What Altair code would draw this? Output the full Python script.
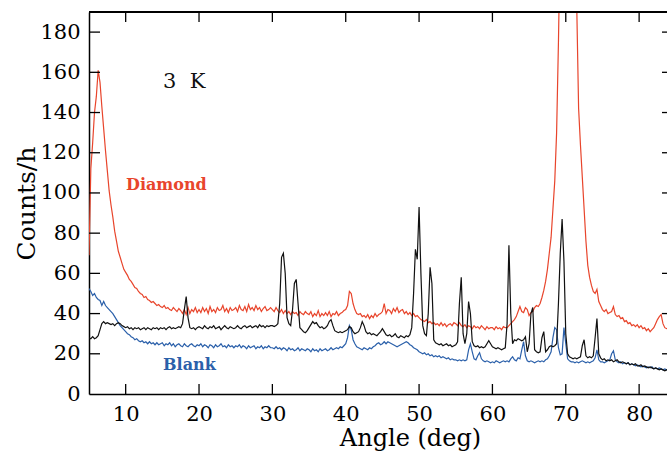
import altair as alt
import pandas as pd

# ---- data (counts/h sampled every 0.25 deg from 5 to 84 deg) ----
red = (
    [69, 112, 125, 140, 148, 161, 155, 143, 132, 121, 111, 101, 94, 88, 81, 76, 71, 68, 65, 62]
    + [60.5, 59, 57, 56, 54.5, 53, 52.5, 51, 50, 49.5, 48, 48.5, 47, 46.5, 45.5, 46, 45, 44, 44.5, 43.5]
    + [43, 44, 42.5, 43, 42, 41.5, 43, 42, 41, 42.5, 41.5, 40, 42, 39.5, 43, 40, 42, 41, 43, 40.5]
    + [42, 40.5, 43, 41, 42.5, 40, 43.5, 41, 42, 40.5, 43, 41.5, 42, 44, 41, 42.5, 40.5, 43, 41.5, 42]
    + [43, 41, 44, 42, 41.5, 43.5, 41, 44.5, 42, 43, 41.5, 44, 42, 43, 41, 42.5, 43.5, 41.5, 42, 43]
    + [42, 41, 43, 41.5, 40.5, 42, 40, 41.5, 40, 41, 39.5, 41, 40, 40.5, 39, 41, 40, 39.5, 41, 40]
    + [39.5, 41, 38.5, 40, 39, 41.5, 38.5, 40, 39, 40.5, 39, 41, 38.5, 40, 39.5, 41, 39, 40, 40.5, 41.5]
    + [42, 44, 51, 50, 45, 42, 40, 39.5, 40, 38.5, 39, 38, 39.5, 37.5, 39, 38, 40, 38.5, 39.5, 40]
    + [41, 45, 40, 42, 41.5, 40, 42.5, 41, 43, 40.5, 41.5, 42, 40, 41, 39.5, 40.5, 39, 40, 38.5, 39]
    + [38, 37, 36.5, 36, 37, 35.5, 36, 35, 35.5, 34.5, 35, 34, 35.5, 34, 35, 33.5, 34.5, 35, 34, 35.5]
    + [35, 34, 35.5, 34, 33.5, 34.5, 33, 34, 33.5, 32.5, 34, 33, 33.5, 32.5, 34, 33, 32, 33.5, 32.5, 33]
    + [33, 32, 33.5, 32.5, 33, 32, 33.5, 33, 33, 34, 35, 36, 37, 38.5, 41, 43.5, 41, 40.5, 43, 42]
    + [39, 40.5, 41, 43, 44, 43.5, 45, 48, 51.5, 56, 62, 70, 78, 92, 106, 130, 175, 230, 300, 340]
    + [350, 350, 340, 310, 270, 240, 192, 142, 124, 108, 92, 76, 64, 58, 54, 51, 50, 52, 46, 44]
    + [42, 41, 42, 40, 40.5, 41, 43.5, 39.5, 38.5, 39, 37.5, 38, 36, 36.5, 35, 35.5, 34, 34.5, 33.5, 34.5]
    + [33, 34, 32.5, 33, 31.5, 32.5, 31, 32, 33, 35, 37, 38.5, 39.5, 35, 33, 32.5, 33]
)

black = (
    [28, 27.5, 28.5, 27.5, 28, 29, 32, 35, 36, 35, 35.5, 35, 34.5, 35, 34, 35, 35.5, 35, 34, 33.5]
    + [33, 33.5, 32.5, 33, 32, 33, 32.5, 33, 32, 32.5, 33, 32, 33, 32.5, 32, 33, 32.5, 33, 32, 33]
    + [32.5, 33, 32, 33, 33.5, 32.5, 33, 32.5, 33, 33.5, 33, 35, 42, 48.5, 38, 33, 32.5, 33, 32, 33]
    + [33.5, 33, 32.5, 34, 33, 32.5, 33.5, 33, 34, 32.5, 33, 33.5, 32, 33, 34, 33, 32.5, 33.5, 33, 32.5]
    + [33, 34, 33, 32.5, 33.5, 34, 33, 33.5, 34, 33, 33.5, 34, 33, 34.5, 33.5, 34, 33, 34, 33.5, 34]
    + [34, 33.5, 34, 35, 45, 68, 70, 60, 38, 35, 34, 42, 55, 57, 45, 33, 32, 31, 30.5, 31.5]
    + [33, 34.5, 36, 35, 35.5, 34, 33, 33.5, 32.5, 33, 34, 36, 37, 34, 31.5, 31, 30.5, 31, 30.5, 31]
    + [31.5, 32, 33.5, 33, 31, 30, 30.5, 31, 33, 36, 34, 31, 30, 30.5, 29.5, 30, 29.5, 29, 30, 31]
    + [32.5, 31, 29.5, 29, 29.5, 28.5, 29, 30, 28.5, 28, 29, 28.5, 28, 29, 28.5, 29.5, 33, 50, 72, 67]
    + [93, 60, 34, 30, 29, 40, 63, 55, 27, 25.5, 25, 24.5, 25, 24, 24.5, 25, 24, 24.5, 23.5, 24]
    + [24.5, 26, 45, 58, 30, 25, 30, 46, 40, 26, 24, 23.5, 24, 23, 23.5, 23, 23.5, 25, 26.5, 25]
    + [23.5, 23, 22.5, 23, 22.5, 22, 22.5, 23, 35, 74, 40, 25, 27, 26.5, 27.5, 27, 26.5, 27, 28.5, 21]
    + [25, 40, 43, 22, 21, 20.5, 21, 28, 31, 21, 22, 23.5, 24, 23.5, 24, 25, 45, 70, 87, 66]
    + [30, 20, 18.5, 18, 17.5, 18, 17.5, 18, 18.5, 24, 27, 19, 18, 18.5, 18, 19, 28, 37.5, 20, 18]
    + [17, 17.5, 16.5, 17, 16.5, 17, 16, 16.5, 17, 16, 15.5, 16, 15.5, 15, 15.5, 14.5, 15, 14.5, 15, 14]
    + [14, 14.5, 13.5, 14, 13.5, 13, 13.5, 13, 12.5, 13, 12.5, 12, 12.5, 12, 11.5, 12, 12.5]
)

blue = (
    [52.5, 51, 49, 50, 48, 47, 46.5, 44, 46, 44, 43, 42, 41, 40, 38.5, 37, 35.5, 34, 33, 32]
    + [31, 30, 29.5, 28.5, 28, 27, 27.5, 26.5, 26, 26.5, 25.5, 26, 25, 26, 25, 25.5, 24.5, 25.5, 24.5, 25]
    + [25.5, 24, 25, 24.5, 25.5, 24, 25, 23.5, 24.5, 25, 24, 23.5, 25, 24, 23.5, 24.5, 25, 24, 23.5, 24.5]
    + [24, 25, 23.5, 24.5, 24, 23, 24.5, 24, 23, 24.5, 23.5, 24, 25, 23.5, 24, 23, 24.5, 23.5, 24, 23]
    + [24, 23.5, 24.5, 23, 24, 23.5, 22.5, 24, 23, 23.5, 24, 22.5, 23.5, 23, 24, 22.5, 23.5, 23, 24, 23]
    + [23, 22.5, 23.5, 22.5, 23, 22, 23, 22.5, 21.5, 23, 22, 22.5, 21.5, 22, 23, 21.5, 22.5, 22, 21.5, 22.5]
    + [22, 21, 22.5, 21.5, 22, 21, 22.5, 21.5, 22, 22.5, 21.5, 22, 23, 22, 22.5, 23, 22.5, 23.5, 23, 24]
    + [25, 28, 34, 32, 27, 25, 23.5, 23, 22.5, 22, 23, 22.5, 22, 23, 22.5, 23.5, 24, 25, 25.5, 24.5]
    + [25, 26, 25, 26, 25.5, 25, 24.5, 24, 23.5, 24, 24.5, 25, 25.5, 26, 25.5, 24.5, 24, 23, 22.5, 22]
    + [21, 20.5, 20, 20.5, 19.5, 20, 19, 19.5, 18.5, 19, 18.5, 19, 18, 18.5, 18, 17.5, 18, 17, 17.5, 17]
    + [17, 16.5, 17, 16.5, 17, 16.5, 17, 22, 25, 21, 17.5, 17, 19, 20.5, 17.5, 16.5, 16, 16.5, 16, 15.5]
    + [16, 15.5, 16.5, 16, 15.5, 16, 16.5, 16, 16.5, 16, 17.5, 18.5, 17, 16.5, 18, 17.5, 22, 26, 19, 16.5]
    + [16, 16.5, 16, 15.5, 16, 16.5, 16, 16.5, 16, 17, 17.5, 19, 21, 28, 33, 32, 23, 19.5, 20, 33]
    + [25, 17.5, 16.5, 16, 16, 15.5, 16, 15.5, 16, 16.5, 16, 15.5, 16, 15.5, 16, 16.5, 18, 22, 17, 16]
    + [16, 15.5, 16, 16.5, 17, 20, 21.5, 17, 16, 15.5, 16, 15, 15.5, 15, 15.5, 14.5, 15, 14.5, 14, 14.5]
    + [14, 13.5, 14, 13.5, 13, 13.5, 13, 13.5, 12.5, 13, 12.5, 13, 12.5, 12, 12.5, 12, 12.5]
)

N = len(red)
assert N == 317 and len(black) == N and len(blue) == N
angle = [5 + 0.25 * i for i in range(N)]

x_ticks = [10, 20, 30, 40, 50, 60, 70, 80]
y_ticks = [0, 20, 40, 60, 80, 100, 120, 140, 160, 180]

labels_text = ["3\u00a0\u00a0K", "Diamond", "Blank"]
labels_x = [15.1, 10.05, 15.1]
labels_y = [152, 101.3, 11.9]

RED = "#e8452c"
BLUE = "#2b60aa"
BLACK = "#111111"
SERIF = "DejaVu Serif"

W, H = 578, 382

xs = alt.Scale(domain=[5, 83.8], nice=False, zero=False)
ys = alt.Scale(domain=[0, 190], nice=False)

xaxis = alt.Axis(
    values=x_ticks, ticks=False, grid=False, domainColor="black", domainWidth=1.5,
    labelFont=SERIF, labelFontSize=21, labelColor="black", labelPadding=9,
    title="Angle (deg)", titleFont=SERIF, titleFontSize=24, titleFontWeight="normal",
    titleColor="black", titleX=321, titleY=51, titleAlign="center",
    titleBaseline="alphabetic", labelFlush=False,
)
yaxis = alt.Axis(
    values=y_ticks, ticks=False, grid=False, domainColor="black", domainWidth=1.5,
    labelFont=SERIF, labelFontSize=21, labelColor="black", labelPadding=9,
    title="Counts/h", titleFont=SERIF, titleFontSize=25, titleFontWeight="normal",
    titleColor="black", titleAngle=270, titleX=-63, titleY=191, titleAlign="center",
    titleBaseline="middle", labelFlush=False,
)

df = pd.DataFrame({"angle": angle, "red": red, "black": black, "blue": blue})


def X(field):
    return alt.X(field, scale=xs, axis=xaxis)


def Y(field):
    return alt.Y(field, scale=ys, axis=yaxis)


def line(col, color):
    return alt.Chart(df).mark_line(color=color, strokeWidth=1.2, clip=True).encode(
        x=X("angle:Q"), y=Y(f"{col}:Q"))


xt = pd.DataFrame({"t": x_ticks})
yt = pd.DataFrame({"t": [v for v in y_ticks if v > 0]})

tick_style = dict(color="black", strokeWidth=1.3)
bottom_ticks = alt.Chart(xt).mark_rule(**tick_style).encode(
    x=X("t:Q"), y=alt.value(H), y2=alt.value(H - 10))
top_ticks = alt.Chart(xt).mark_rule(**tick_style).encode(
    x=X("t:Q"), y=alt.value(0), y2=alt.value(10))
left_ticks = alt.Chart(yt).mark_rule(**tick_style).encode(
    y=Y("t:Q"), x=alt.value(0), x2=alt.value(11))
right_ticks = alt.Chart(yt).mark_rule(**tick_style).encode(
    y=Y("t:Q"), x=alt.value(W - 5), x2=alt.value(W))
top_border = alt.Chart(xt).mark_rule(color="black", strokeWidth=1.5).encode(
    x=alt.value(0), x2=alt.value(W), y=alt.value(0))

ann = pd.DataFrame({"x": labels_x, "y": labels_y, "text": labels_text})
t3k = alt.Chart(ann.iloc[[0]]).mark_text(
    font=SERIF, fontSize=21, align="left", baseline="alphabetic", color=BLACK
).encode(x=X("x:Q"), y=Y("y:Q"), text="text:N")
tdia = alt.Chart(ann.iloc[[1]]).mark_text(
    font=SERIF, fontSize=16, fontWeight="bold", align="left", baseline="alphabetic", color=RED
).encode(x=X("x:Q"), y=Y("y:Q"), text="text:N")
tbl = alt.Chart(ann.iloc[[2]]).mark_text(
    font=SERIF, fontSize=16, fontWeight="bold", align="left", baseline="alphabetic", color=BLUE
).encode(x=X("x:Q"), y=Y("y:Q"), text="text:N")

chart = alt.layer(
    line("red", RED), line("blue", BLUE), line("black", BLACK),
    bottom_ticks, top_ticks, left_ticks, right_ticks, top_border,
    t3k, tdia, tbl,
).properties(
    width=W, height=H,
    autosize=alt.AutoSizeParams(type="none"),
    padding={"left": 89, "top": 12, "right": 0, "bottom": 57},
).configure_view(stroke=None).configure(background="white")

chart.save("out.html", embed_options={"renderer": "svg", "actions": False})
